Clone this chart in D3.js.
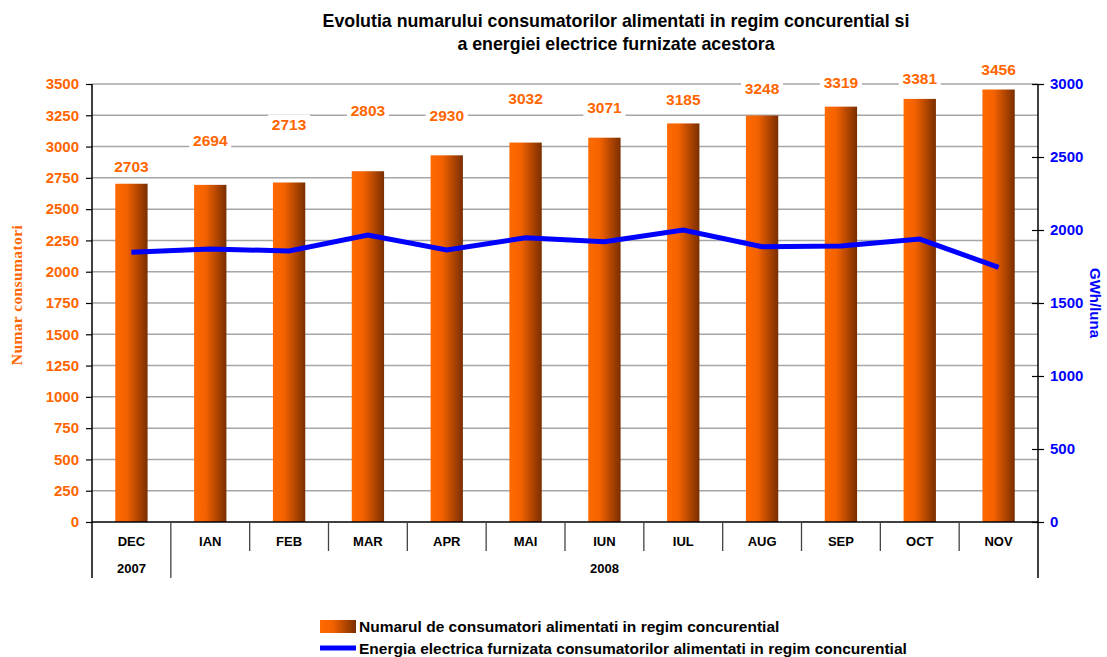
<!DOCTYPE html>
<html><head><meta charset="utf-8">
<script src="https://cdn.jsdelivr.net/npm/d3@7"></script>
<style>body{margin:0;background:#fff}svg{display:block}</style></head>
<body><svg id="c" width="1107" height="657"></svg>
<script>
const months=["DEC","IAN","FEB","MAR","APR","MAI","IUN","IUL","AUG","SEP","OCT","NOV"];
const years=[{label:"2007",from:"DEC",to:"DEC"},{label:"2008",from:"IAN",to:"NOV"}];
const consumers=[2703,2694,2713,2803,2930,3032,3071,3185,3248,3319,3381,3456];
const energy=[1847,1870,1856,1966,1863,1947,1920,2000,1886,1890,1938,1744];
const leftTicks=[0,250,500,750,1000,1250,1500,1750,2000,2250,2500,2750,3000,3250,3500];
const rightTicks=[0,500,1000,1500,2000,2500,3000];
const titleLines=["Evolutia numarului consumatorilor alimentati in regim concurential si","a energiei electrice furnizate acestora"];
const legendItems=["Numarul de consumatori alimentati in regim concurential","Energia electrica furnizata consumatorilor alimentati in regim concurential"];
// layout: vertical lift of each value label above its bar (px)
const labelLift=[17,44,58,61,40,44,30,24,27,24,20,20];

const ORANGE="#FF6600", BLUE="#0000FF";
const FONT="Liberation Sans, Arial, sans-serif";
const svg=d3.select("#c");
const L=92,R=1038,T=84,B=522;
const x=d3.scaleBand().domain(months).range([L,R]);
const yL=d3.scaleLinear().domain([0,3500]).range([B,T]);
const yR=d3.scaleLinear().domain([0,3000]).range([B,T]);

const defs=svg.append("defs");
const g=defs.append("linearGradient").attr("id","bg").attr("x1","0").attr("x2","1").attr("y1","0").attr("y2","0");
g.append("stop").attr("offset","0").attr("stop-color","#FF6A00");
g.append("stop").attr("offset","0.35").attr("stop-color","#F46200");
g.append("stop").attr("offset","1").attr("stop-color","#7A2E00");

// title
svg.append("g").selectAll("text").data(titleLines).join("text")
  .attr("x",616).attr("y",(d,i)=>27+i*23).attr("text-anchor","middle")
  .attr("font-family",FONT).attr("font-weight","bold").attr("font-size",17.8)
  .attr("fill","#000").text(d=>d);

// gridlines
svg.append("g").selectAll("line").data(leftTicks.filter(d=>d>0)).join("line")
  .attr("x1",L).attr("x2",R).attr("y1",d=>yL(d)).attr("y2",d=>yL(d))
  .attr("stroke","#a6a6a6").attr("stroke-width",1.5);

// value labels with white background
const bw=x.bandwidth()*0.41;
const lab=svg.append("g").selectAll("g").data(consumers).join("g")
  .attr("transform",(d,i)=>`translate(${x(months[i])+x.bandwidth()/2},${yL(d)-labelLift[i]})`);
lab.append("rect").attr("x",-21).attr("y",-10).attr("width",42).attr("height",20).attr("fill","#fff");
lab.append("text").attr("text-anchor","middle").attr("dy","0.36em")
  .attr("font-family",FONT).attr("font-weight","bold").attr("font-size",15.5)
  .attr("fill",ORANGE).text(d=>d);

// bars
svg.append("g").selectAll("rect").data(consumers).join("rect")
  .attr("x",(d,i)=>x(months[i])+x.bandwidth()/2-bw/2).attr("width",bw)
  .attr("y",d=>yL(d)).attr("height",d=>B-yL(d)).attr("fill","url(#bg)");

// line
svg.append("path").datum(energy)
  .attr("d",d3.line().x((d,i)=>x(months[i])+x.bandwidth()/2).y(d=>yR(d)))
  .attr("fill","none").attr("stroke",BLUE).attr("stroke-width",5);

// left axis
const ax=svg.append("g").attr("transform",`translate(${L},0)`)
  .call(d3.axisLeft(yL).tickValues(leftTicks).tickFormat(d3.format("d")).tickSize(6).tickSizeOuter(0).tickPadding(7));
ax.select(".domain").remove();
ax.selectAll("line").attr("stroke","#000").attr("stroke-width",1.2);
ax.selectAll("text").attr("font-family",FONT).attr("font-weight","bold")
  .attr("font-size",15).attr("fill",ORANGE);

// right axis
const ar=svg.append("g").attr("transform",`translate(${R},0)`)
  .call(d3.axisRight(yR).tickValues(rightTicks).tickFormat(d3.format("d")).tickSize(6).tickSizeOuter(0).tickPadding(6));
ar.select(".domain").remove();
ar.selectAll(".tick line").attr("x1",-6).attr("x2",6).attr("stroke","#000").attr("stroke-width",1.2);
ar.selectAll("text").attr("font-family",FONT).attr("font-weight","bold")
  .attr("font-size",15).attr("fill",BLUE);

// axis lines
const axg=svg.append("g").attr("stroke","#000").attr("stroke-width",1.5);
axg.append("line").attr("x1",L).attr("x2",L).attr("y1",T).attr("y2",578);
axg.append("line").attr("x1",R).attr("x2",R).attr("y1",T).attr("y2",578);
axg.append("line").attr("x1",L).attr("x2",R).attr("y1",B).attr("y2",B);
// category dividers
const yearStarts=years.map(y=>y.from);
axg.selectAll(".div").data(months.slice(1)).join("line").attr("class","div")
  .attr("x1",d=>x(d)).attr("x2",d=>x(d)).attr("y1",B)
  .attr("y2",d=>yearStarts.includes(d)?578:551).attr("stroke","#444").attr("stroke-width",1.3);

// month labels
svg.append("g").selectAll("text").data(months).join("text")
  .attr("x",d=>x(d)+x.bandwidth()/2).attr("y",546).attr("text-anchor","middle")
  .attr("font-family",FONT).attr("font-weight","bold").attr("font-size",13)
  .attr("fill","#000").text(d=>d);
// year labels
svg.append("g").selectAll("text").data(years).join("text")
  .attr("x",d=>(x(d.from)+x(d.to)+x.bandwidth())/2).attr("y",573).attr("text-anchor","middle")
  .attr("font-family",FONT).attr("font-weight","bold").attr("font-size",13)
  .attr("fill","#000").text(d=>d.label);

// axis titles
svg.append("text").attr("transform","translate(22,295) rotate(-90)").attr("text-anchor","middle")
  .attr("font-family","Liberation Serif, Times New Roman, serif").attr("font-weight","bold").attr("font-size",15.5)
  .attr("fill",ORANGE).attr("letter-spacing",0.4).text("Numar consumatori");
svg.append("text").attr("transform","translate(1090,303) rotate(90)").attr("text-anchor","middle")
  .attr("font-family",FONT).attr("font-weight","bold").attr("font-size",15)
  .attr("fill",BLUE).text("GWh/luna");

// legend
const lg=svg.append("g");
lg.append("rect").attr("x",320).attr("y",620).attr("width",36).attr("height",13).attr("fill","url(#bg)");
lg.append("line").attr("x1",320).attr("x2",356).attr("y1",648).attr("y2",648).attr("stroke",BLUE).attr("stroke-width",5);
lg.selectAll("text").data(legendItems).join("text")
  .attr("x",359).attr("y",(d,i)=>631.5+i*22)
  .attr("font-family",FONT).attr("font-weight","bold").attr("font-size",15.5)
  .attr("fill","#000").text(d=>d);
</script></body></html>
